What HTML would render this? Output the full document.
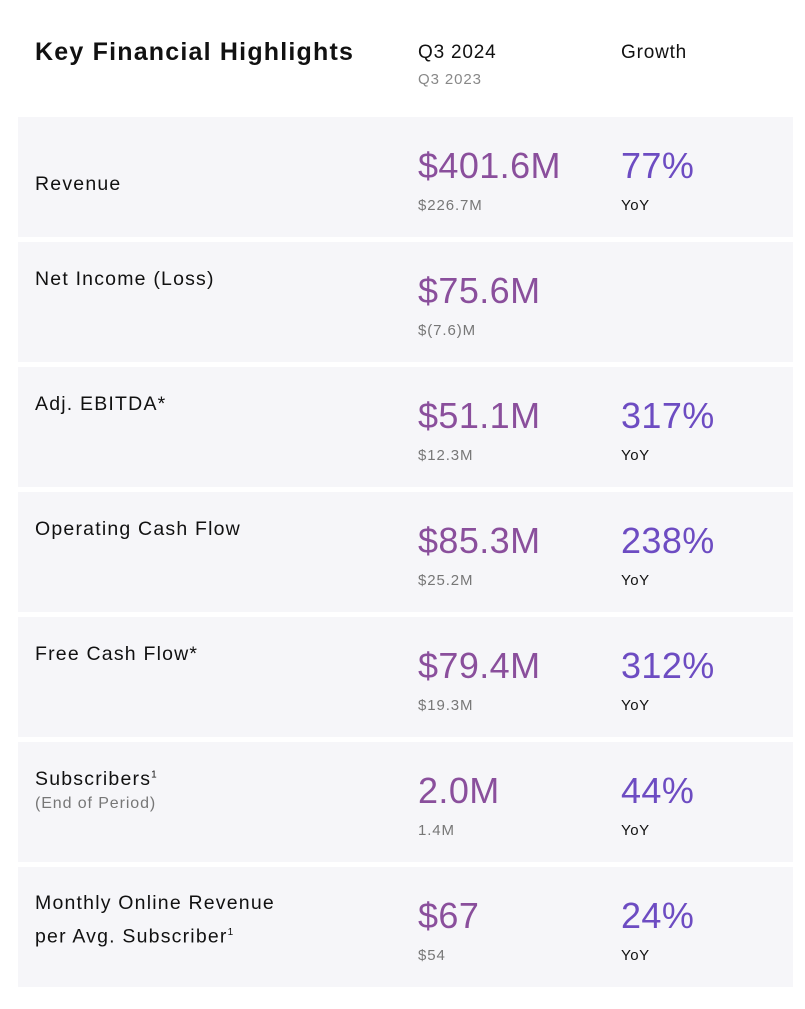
<!DOCTYPE html>
<html><head><meta charset="utf-8"><style>
body{margin:0;width:805px;height:1009px;background:#fff;font-family:"Liberation Sans",sans-serif;position:relative;overflow:hidden}
.a{position:absolute;white-space:nowrap}
.row{position:absolute;left:18px;width:775px;height:120px;background:#f6f6f9}
.lab{font-size:19.5px;color:#111;letter-spacing:1.2px}
.val{font-size:36px;color:#8a4f9c;letter-spacing:0.4px}
.gr{font-size:36px;color:#6d4cc2;letter-spacing:0.4px}
.sub{font-size:15px;color:#777;letter-spacing:0.9px}
.yoy{font-size:15px;color:#111;letter-spacing:0.6px}
sup{font-size:10px}
</style></head><body>
<div class="a" style="left:35px;top:38px;font-size:25px;font-weight:bold;color:#111;letter-spacing:1.2px">Key Financial Highlights</div>
<div class="a" style="left:418px;top:42px;font-size:19px;color:#111;letter-spacing:0.8px">Q3 2024</div>
<div class="a" style="left:418px;top:71px;font-size:15px;color:#888;letter-spacing:0.9px">Q3 2023</div>
<div class="a" style="left:621px;top:42px;font-size:19px;color:#111;letter-spacing:0.8px">Growth</div>
<div id="rows"></div>
<script>
const labels=["Revenue","Net Income (Loss)","Adj. EBITDA*","Operating Cash Flow","Free Cash Flow*","Subscribers<sup>1</sup>","Monthly Online Revenue<br>per Avg. Subscriber<sup>1</sup>"];
const current=["$401.6M","$75.6M","$51.1M","$85.3M","$79.4M","2.0M","$67"];
const prior=["$226.7M","$(7.6)M","$12.3M","$25.2M","$19.3M","1.4M","$54"];
const growth=["77%","","317%","238%","312%","44%","24%"];
const c=document.getElementById('rows');
labels.forEach((l,i)=>{
 const t=117+i*125;
 const r=document.createElement('div');r.className='row';r.style.top=t+'px';
 
 
 c.appendChild(r);
 const mk=(cls,x,y,html,name)=>{const e=document.createElement('div');e.className='a '+cls;e.style.left=x+'px';e.style.top=y+'px';e.innerHTML=html;
  
  
  c.appendChild(e);return e;};
 const ly=i==0?t+56:t+26;
 const le=mk('lab',35,ly,l,'metric-label');
 if(i==6)le.style.lineHeight='30px',le.style.top=(t+21)+'px';
 if(i==5)mk('sub',35,t+53,'(End of Period)','metric-note').style.fontSize='16px';
 mk('val',418,t+28,current[i],'current-value');
 mk('sub',418,t+80,prior[i],'prior-value');
 if(growth[i]){mk('gr',621,t+28,growth[i],'growth-value');mk('yoy',621,t+80,'YoY','yoy-label');}
});
</script>
</body></html>
